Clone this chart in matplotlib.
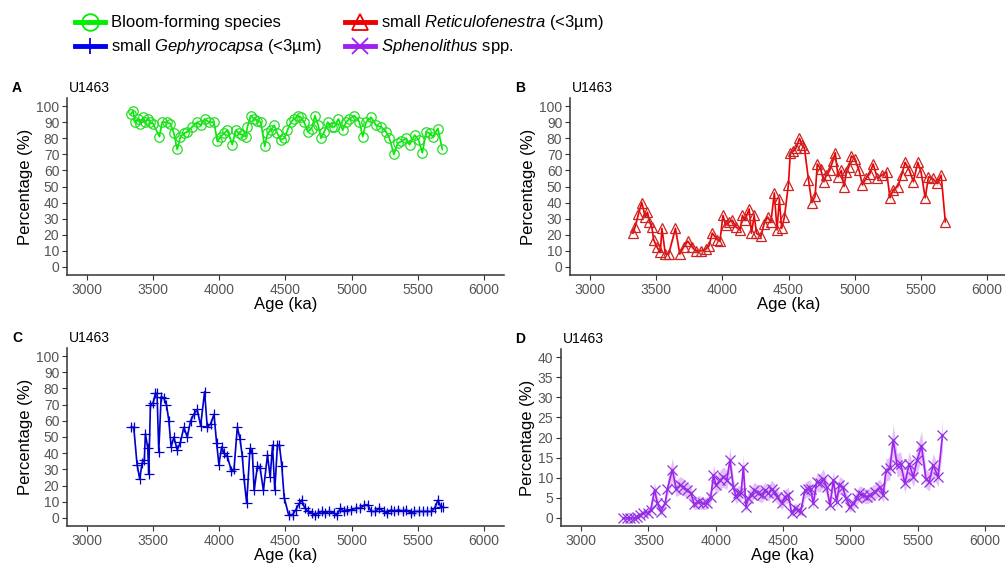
import matplotlib
matplotlib.use("Agg")
import matplotlib.pyplot as plt
from matplotlib.lines import Line2D
import numpy as np

plt.rcParams['font.family'] = ['Liberation Sans', 'DejaVu Sans']
plt.rcParams['mathtext.fontset'] = 'custom'
plt.rcParams['mathtext.rm'] = 'Liberation Sans'
plt.rcParams['mathtext.it'] = 'Liberation Sans:italic'

# ---------------- data ----------------
ageA = [3333, 3348, 3366, 3384, 3404, 3424, 3442, 3460, 3480, 3500, 3548, 3568, 3606, 3631, 3657,
        3682, 3707, 3732, 3758, 3795, 3833, 3859, 3889, 3922, 3960, 3985, 4010, 4035, 4061, 4098,
        4124, 4149, 4174, 4199, 4212, 4237, 4263, 4288, 4313, 4343, 4364, 4389, 4414, 4439, 4465,
        4490, 4515, 4540, 4566, 4596, 4616, 4641, 4667, 4697, 4722, 4747, 4768, 4793, 4818, 4848,
        4869, 4899, 4932, 4957, 4982, 5020, 5058, 5083, 5108, 5146, 5184, 5222, 5260, 5285, 5318,
        5348, 5374, 5411, 5437, 5475, 5505, 5533, 5563, 5588, 5613, 5651, 5684]
bloom = [95, 97, 90, 92, 89, 93, 90, 92, 90, 89, 81, 90, 90, 89, 83,
         73, 81, 83, 84, 87, 90, 88, 92, 90, 90, 78, 81, 83, 85, 76,
         85, 83, 82, 81, 87, 94, 92, 91, 90, 75, 83, 85, 88, 83, 79,
         80, 85, 90, 92, 94, 93, 90, 84, 86, 94, 88, 80, 84, 90, 87,
         87, 92, 85, 90, 92, 94, 90, 81, 90, 93, 88, 87, 84, 80, 70,
         77, 78, 80, 76, 82, 79, 71, 84, 83, 81, 86, 73]

ageB = [3324, 3342, 3367, 3392, 3418, 3435, 3450, 3468, 3481, 3506, 3532, 3544, 3570, 3595, 3646,
        3679, 3709, 3739, 3772, 3798, 3836, 3874, 3899, 3924, 3962, 3982, 4005, 4025, 4051, 4076,
        4101, 4134, 4152, 4170, 4203, 4220, 4241, 4258, 4291, 4316, 4342, 4367, 4393, 4413, 4431,
        4448, 4469, 4499, 4514, 4537, 4557, 4583, 4600, 4620, 4651, 4676, 4701, 4717, 4742, 4767,
        4785, 4810, 4835, 4853, 4874, 4899, 4919, 4937, 4955, 4975, 5000, 5033, 5058, 5084, 5114,
        5139, 5172, 5203, 5241, 5266, 5291, 5324, 5354, 5380, 5413, 5443, 5476, 5501, 5532, 5557,
        5588, 5621, 5653, 5684]
reticulo = [21, 25, 33, 40, 31, 34, 28, 25, 17, 12.5, 9, 24, 8, 8, 24,
            8, 12.5, 16, 12.5, 10, 10, 11, 13, 21, 17, 16, 32, 26, 28, 29,
            25, 23, 32, 29, 36, 21, 32, 21, 19, 27, 31, 28, 46, 23, 42,
            24, 31, 51, 71, 72, 74, 80, 76, 74, 54, 40, 44, 64, 61, 53,
            57, 60, 66, 71, 56, 60, 50, 59, 62, 69, 67, 60, 51, 55, 58,
            64, 55, 57, 59, 43, 48, 50, 57, 65, 60, 53, 65, 59, 43, 56,
            55, 52, 57, 28]

ageC = [3333, 3354, 3379, 3399, 3417, 3434, 3442, 3460, 3467, 3480, 3500, 3518, 3530, 3543, 3561,
        3581, 3601, 3619, 3636, 3657, 3682, 3707, 3732, 3758, 3783, 3808, 3833, 3859, 3889, 3909,
        3934, 3960, 3980, 3997, 4018, 4035, 4061, 4091, 4111, 4136, 4156, 4174, 4187, 4207, 4232,
        4250, 4263, 4288, 4308, 4333, 4364, 4384, 4402, 4419, 4439, 4454, 4472, 4490, 4523, 4553,
        4578, 4603, 4621, 4646, 4672, 4697, 4722, 4747, 4773, 4798, 4831, 4863, 4889, 4914, 4939,
        4964, 4995, 5033, 5065, 5096, 5121, 5146, 5177, 5209, 5242, 5267, 5298, 5323, 5353, 5386,
        5411, 5444, 5474, 5505, 5538, 5570, 5601, 5626, 5651, 5672, 5690]
gephyro = [56, 56, 33, 24, 34, 36, 52, 43, 27, 70, 71, 77, 77, 41, 75,
           74, 70, 60, 44, 50, 42, 47, 56, 50, 60, 64, 67, 57, 78, 56,
           58, 64, 46, 33, 44, 40, 38, 29, 30, 56, 49, 38, 24, 9, 43,
           40, 17, 32, 31, 17, 39, 25, 45, 17, 45, 45, 32, 12.5, 2, 2,
           5, 9, 11, 6, 4, 3, 2, 3, 4, 3, 4, 3, 2, 6, 4,
           5, 5, 6, 6, 8, 8, 4, 4, 6, 4, 3, 5, 4, 5, 4,
           5, 3, 4, 4, 4, 4, 4, 6, 11, 7, 7]

ageD = [3314, 3339, 3364, 3389, 3413, 3438, 3463, 3493, 3517, 3545, 3567, 3592, 3624, 3641, 3678,
        3705, 3735, 3760, 3785, 3814, 3839, 3871, 3903, 3933, 3963, 3983, 4002, 4032, 4057, 4082,
        4106, 4131, 4151, 4168, 4188, 4205, 4225, 4242, 4267, 4287, 4317, 4341, 4366, 4391, 4416,
        4436, 4458, 4490, 4515, 4540, 4564, 4589, 4614, 4631, 4663, 4688, 4705, 4725, 4750, 4775,
        4799, 4824, 4849, 4874, 4898, 4918, 4943, 4968, 4997, 5022, 5047, 5067, 5096, 5121, 5146,
        5183, 5220, 5245, 5265, 5294, 5319, 5349, 5374, 5406, 5438, 5468, 5497, 5529, 5562, 5586,
        5616, 5653, 5685]
spheno = [0, 0, 0, 0, 0.3, 0.7, 1.2, 1.3, 2, 7, 3.6, 1.6, 3.6, 7.3, 12,
          7.3, 8.1, 7.7, 6.9, 6.3, 3.5, 4, 3.6, 3.6, 5.3, 10.6, 8.1, 9.4, 10.2, 9.4,
          14.3, 7.7, 5.3, 6.1, 6.1, 12.7, 2.8, 4.9, 5.7, 6.9, 6.1, 5.7, 6.9, 6.1, 7.3,
          6.5, 5.3, 3.6, 5.3, 5.7, 1.2, 2.4, 2, 1.6, 6.9, 7.3, 7.3, 3.6, 9, 8.6,
          9.8, 7.7, 3.2, 9.5, 4, 8.1, 7.7, 4.9, 2.8, 3.6, 4.9, 6.1, 5.7, 5.3, 5.7,
          6.5, 7.7, 5.7, 11.9, 12.3, 19.3, 13.1, 13.5, 8.6, 13.5, 10.2, 14.3, 18, 9.8, 9,
          13.1, 10.2, 20.5]
spheno_err = [0.3, 0.3, 0.3, 0.4, 0.5, 0.7, 0.9, 0.9, 1.1, 2.0, 1.5, 1.0, 1.5, 2.0, 2.9,
              2.0, 2.2, 2.1, 2.0, 1.9, 1.5, 1.6, 1.5, 1.5, 1.8, 2.6, 2.2, 2.4, 2.5, 2.4,
              3.1, 2.1, 1.8, 1.9, 1.9, 2.9, 1.3, 1.7, 1.9, 2.0, 1.9, 1.9, 2.0, 1.9, 2.1,
              2.0, 1.8, 1.5, 1.8, 1.9, 0.9, 1.3, 1.2, 1.1, 2.0, 2.1, 2.1, 1.5, 2.3, 2.2,
              2.4, 2.1, 1.4, 2.4, 1.6, 2.2, 2.1, 1.7, 1.3, 1.5, 1.7, 1.9, 1.9, 1.8, 1.9,
              2.0, 2.1, 1.9, 2.8, 2.8, 3.9, 2.9, 3.0, 2.3, 3.0, 2.5, 3.1, 3.6, 2.4, 2.3,
              2.9, 2.5, 3.8]

x_ticks = [3000, 3500, 4000, 4500, 5000, 5500, 6000]
site = "U1463"

# ---------------- figure ----------------
W, H = 1005, 568
fig = plt.figure(figsize=(W / 100, H / 100), dpi=100)


def ax_px(left, right, top, bottom):
    return fig.add_axes([left / W, 1 - bottom / H, (right - left) / W, (bottom - top) / H])


axA = ax_px(67, 504, 98, 275)
axB = ax_px(570, 1007, 98, 275)
axC = ax_px(67, 504, 348, 526)
axD = ax_px(561, 1005, 349, 526)

GREY = "#555555"


def style(ax, ymax, ystep):
    ax.set_xlim(2850, 6150)
    ax.set_ylim(-ymax * 0.05, ymax * 1.05)
    ax.set_xticks(x_ticks)
    ax.set_yticks(np.arange(0, ymax + 0.1, ystep))
    for s in ["top", "right"]:
        ax.spines[s].set_visible(False)
    for s in ["left", "bottom"]:
        ax.spines[s].set_color("#333333")
        ax.spines[s].set_linewidth(1.1)
    ax.tick_params(axis="both", colors="#333333", labelcolor=GREY, labelsize=10,
                   length=3.5, width=0.8, pad=2)
    ax.set_xlabel("Age (ka)", fontsize=12, color="black", labelpad=0)
    ax.set_ylabel("Percentage (%)", fontsize=12, color="black", labelpad=2)
    ax.set_facecolor("none")


series = [
    (axA, ageA, bloom, None, 1.5, "#00ee00", "o", "#22dd22", "A", 100, 10),
    (axB, ageB, reticulo, None, 2.0, "#ee0000", "^", "#cc2222", "B", 100, 10),
    (axC, ageC, gephyro, None, 2.0, "#0000cc", "+", "#0000cc", "C", 100, 10),
    (axD, ageD, spheno, spheno_err, None, "#a020f0", "x", "#9030e0", "D", 40, 5),
]

for ax, xs, ys, err, cerr, col, mk, mcol, lab, ymax, ystep in series:
    xs = np.asarray(xs, float)
    ys = np.asarray(ys, float)
    e = np.asarray(err, float) if err is not None else np.full_like(ys, cerr)
    band_alpha = 0.28 if err is not None else 0.15
    ax.fill_between(xs, ys - e, ys + e, color=col, alpha=band_alpha, linewidth=0)
    ax.plot(xs, ys, color=col, lw=1.2, zorder=3)
    ms = 6.8 if mk in ("o", "^") else 7
    ax.plot(xs, ys, linestyle="none", marker=mk, markersize=ms, markerfacecolor="none",
            markeredgecolor=mcol, markeredgewidth=0.9, zorder=4)
    style(ax, ymax, ystep)
    bb = ax.get_position()
    fig.text(12 / W if lab in "AC" else 515 / W, bb.y1 + 10 / H, lab,
             fontsize=10, fontweight="bold", va="center", ha="left")
    fig.text(bb.x0 + 2 / W, bb.y1 + 10 / H, site, fontsize=10, va="center", ha="left")

# ---------------- legend ----------------
legend_items = [
    ("Bloom-forming species", "#00ee00", "o", 75, 22),
    ("small $\\mathit{Reticulofenestra}$ (<3µm)", "#ee0000", "^", 345, 22),
    ("small $\\mathit{Gephyrocapsa}$ (<3µm)", "#0000ee", "+", 75, 46),
    ("$\\mathit{Sphenolithus}$ spp.", "#a020f0", "x", 345, 46),
]
for text, col, mk, x0, yc in legend_items:
    y = 1 - yc / H
    fig.add_artist(Line2D([x0 / W, (x0 + 30) / W], [y, y], color=col, lw=3.5,
                          transform=fig.transFigure))
    fig.add_artist(Line2D([(x0 + 15) / W], [y], marker=mk, markersize=12,
                          markerfacecolor="none", markeredgecolor=col, markeredgewidth=1.3,
                          linestyle="none", transform=fig.transFigure))
    fig.text((x0 + 36) / W, y, text, fontsize=12, va="center", ha="left")

fig.savefig("out.png", dpi=100)
